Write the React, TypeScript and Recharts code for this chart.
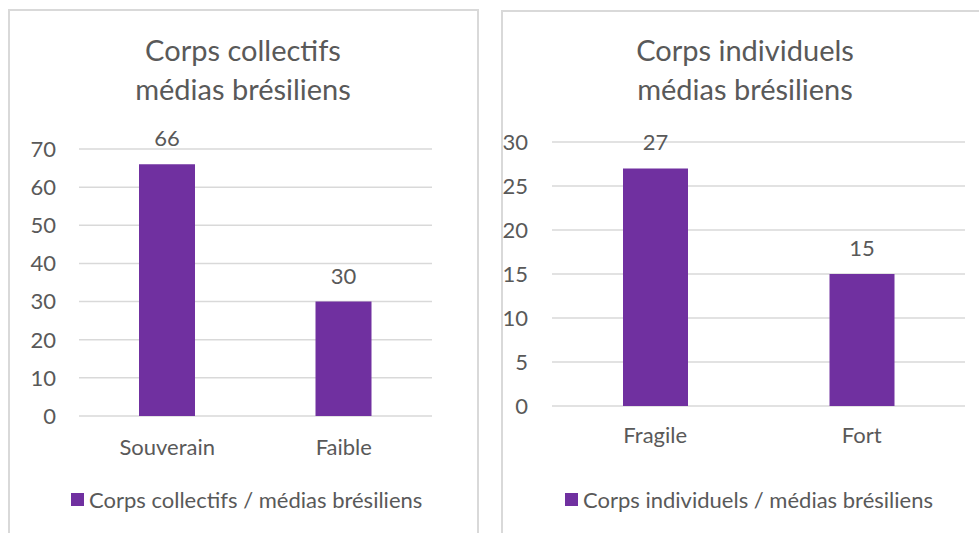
import React from 'react';
import { BarChart, Bar, XAxis, YAxis, CartesianGrid, LabelList } from 'recharts';

const collectiveCategories = ['Souverain', 'Faible'];
const collectiveValues = [66, 30];
const collectiveTicks = [0, 10, 20, 30, 40, 50, 60, 70];
const collectiveTitle = ['Corps collectifs', 'médias brésiliens'];
const collectiveSeries = 'Corps collectifs / médias brésiliens';

const individualCategories = ['Fragile', 'Fort'];
const individualValues = [27, 15];
const individualTicks = [0, 5, 10, 15, 20, 25, 30];
const individualTitle = ['Corps individuels', 'médias brésiliens'];
const individualSeries = 'Corps individuels / médias brésiliens';

const PURPLE = '#7030A0';
const TEXT = '#595959';
const GRID = '#D9D9D9';
const FONT = 'Lato, "Open Sans", sans-serif';

interface PanelProps {
  categories: string[];
  values: number[];
  ticks: number[];
  title: string[];
  series: string;
  chartLeft: number;
  chartWidth: number;
  margin: { top: number; right: number; bottom: number; left: number };
  barSize: number;
  tickGap: number;
  labelGap: number;
  titleCenter: number;
  legendLeft: number;
}

const Panel: React.FC<PanelProps> = ({
  categories,
  values,
  ticks,
  title,
  series,
  chartLeft,
  chartWidth,
  margin,
  barSize,
  tickGap,
  labelGap,
  titleCenter,
  legendLeft,
}) => {
  const data = categories.map((name, i) => ({ name, value: values[i] }));
  return (
    <>
      <div
        style={{
          position: 'absolute',
          left: titleCenter - 200,
          width: 400,
          top: 30,
          textAlign: 'center',
          fontSize: 29,
          lineHeight: '39px',
          color: TEXT,
          fontFamily: FONT,
        }}
      >
        {title.map((t) => (
          <div key={t}>{t}</div>
        ))}
      </div>
      <div style={{ position: 'absolute', left: chartLeft, top: 0 }}>
        <BarChart width={chartWidth} height={533} data={data} margin={margin}>
          <CartesianGrid vertical={false} stroke={GRID} strokeWidth={1.5} />
          <XAxis
            dataKey="name"
            axisLine={false}
            tickLine={false}
            tickSize={0}
            tickMargin={labelGap}
            height={60}
            tick={{ fill: TEXT, fontSize: 22, fontFamily: FONT }}
          />
          <YAxis
            domain={[ticks[0], ticks[ticks.length - 1]]}
            ticks={ticks}
            axisLine={false}
            tickLine={false}
            tickSize={0}
            tickMargin={tickGap}
            width={40}
            tick={{ fill: TEXT, fontSize: 22, fontFamily: FONT }}
          />
          <Bar dataKey="value" fill={PURPLE} barSize={barSize} isAnimationActive={false}>
            <LabelList
              dataKey="value"
              position="top"
              offset={18}
              fill={TEXT}
              fontSize={22}
              fontFamily={FONT}
            />
          </Bar>
        </BarChart>
      </div>
      <div
        style={{
          position: 'absolute',
          left: legendLeft,
          top: 486,
          display: 'flex',
          alignItems: 'center',
          fontSize: 22,
          color: TEXT,
          fontFamily: FONT,
          whiteSpace: 'nowrap',
        }}
      >
        <span style={{ width: 13, height: 13, background: PURPLE, marginRight: 5, display: 'inline-block' }} />
        <span>{series}</span>
      </div>
    </>
  );
};

export default function App() {
  return (
    <div
      style={{
        position: 'absolute',
        left: 0,
        top: 0,
        width: 979,
        height: 533,
        overflow: 'hidden',
        background: '#fff',
      }}
    >
      <div
        style={{
          position: 'absolute',
          left: 8,
          top: 9,
          width: 467,
          height: 560,
          border: `2px solid ${GRID}`,
        }}
      />
      <div
        style={{
          position: 'absolute',
          left: 501,
          top: 10,
          width: 500,
          height: 560,
          border: `2px solid ${GRID}`,
        }}
      />
      <Panel
        categories={collectiveCategories}
        values={collectiveValues}
        ticks={collectiveTicks}
        title={collectiveTitle}
        series={collectiveSeries}
        chartLeft={0}
        chartWidth={480}
        margin={{ top: 149, right: 48, bottom: 57, left: 39 }}
        barSize={56}
        tickGap={23}
        labelGap={23}
        titleCenter={243}
        legendLeft={71}
      />
      <Panel
        categories={individualCategories}
        values={individualValues}
        ticks={individualTicks}
        title={individualTitle}
        series={individualSeries}
        chartLeft={480}
        chartWidth={499}
        margin={{ top: 142, right: 14, bottom: 67, left: 32 }}
        barSize={65}
        tickGap={24}
        labelGap={21}
        titleCenter={745}
        legendLeft={565}
      />
    </div>
  );
}
